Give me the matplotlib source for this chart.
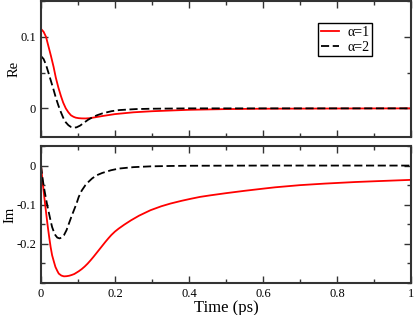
import matplotlib
matplotlib.use("Agg")
import matplotlib.pyplot as plt
from matplotlib.ticker import MultipleLocator

plt.rcParams['font.family'] = ['Liberation Serif', 'DejaVu Serif']

# Real part, alpha=1
t_re1 = [0, 0.007, 0.0135, 0.020, 0.027, 0.034, 0.040, 0.047, 0.054, 0.060, 0.067, 0.074, 0.081,
         0.088, 0.094, 0.102, 0.11, 0.12, 0.13, 0.146, 0.166, 0.2, 0.25, 0.3, 0.4, 0.5, 0.6, 0.8, 1.0]
re1 = [0.111, 0.107, 0.100, 0.087, 0.073, 0.058, 0.043, 0.029, 0.017, 0.008, 0.0, -0.0055, -0.0097,
       -0.0118, -0.013, -0.0137, -0.014, -0.0141, -0.0138, -0.0125, -0.0107, -0.008, -0.0055, -0.004,
       -0.002, -0.001, -0.0005, -0.0002, 0.0]

# Real part, alpha=2
t_re2 = [0, 0.007, 0.0135, 0.020, 0.027, 0.034, 0.040, 0.047, 0.054, 0.060, 0.067, 0.074, 0.081, 0.088,
         0.096, 0.106, 0.115, 0.127, 0.139, 0.152, 0.166, 0.19, 0.211, 0.256, 0.3, 0.4, 0.6, 0.8, 1.0]
re2 = [0.073, 0.069, 0.061, 0.050, 0.038, 0.026, 0.015, 0.004, -0.0056, -0.013, -0.0195, -0.0235, -0.026, -0.027,
       -0.0265, -0.024, -0.0205, -0.016, -0.0125, -0.0095, -0.007, -0.004, -0.0024, -0.001, -0.0005, 0.0, 0.0, 0.0, 0.0]

# Imaginary part, alpha=1
t_im1 = [0, 0.004, 0.0085, 0.013, 0.0175, 0.022, 0.026, 0.030, 0.035, 0.039, 0.044, 0.048, 0.055, 0.062,
         0.069, 0.076, 0.083, 0.090, 0.096, 0.102, 0.110, 0.118, 0.126, 0.134, 0.142, 0.150, 0.158, 0.166,
         0.174, 0.182, 0.190, 0.200, 0.210, 0.225, 0.243, 0.265, 0.296, 0.325, 0.35, 0.38, 0.404, 0.43,
         0.458, 0.5, 0.55, 0.6, 0.633, 0.7, 0.768, 0.85, 0.903, 1.0]
im1 = [0, -0.038, -0.077, -0.114, -0.150, -0.182, -0.208, -0.229, -0.246, -0.259, -0.269, -0.276, -0.281, -0.283,
       -0.2826, -0.2815, -0.2795, -0.277, -0.2735, -0.270, -0.2645, -0.258, -0.2505, -0.242, -0.233, -0.2235,
       -0.214, -0.2045, -0.195, -0.186, -0.1775, -0.1685, -0.161, -0.151, -0.140, -0.128, -0.114, -0.104,
       -0.097, -0.090, -0.085, -0.080, -0.076, -0.0705, -0.0645, -0.059, -0.0555, -0.050, -0.046, -0.042,
       -0.040, -0.0365]

# Imaginary part, alpha=2
t_im2 = [0, 0.0036, 0.008, 0.0126, 0.017, 0.0216, 0.026, 0.030, 0.035, 0.039, 0.044, 0.050, 0.056, 0.062,
         0.069, 0.0755, 0.082, 0.089, 0.096, 0.102, 0.110, 0.120, 0.129, 0.138, 0.150, 0.165, 0.189, 0.21,
         0.25, 0.296, 0.35, 0.4, 0.6, 0.8, 1.0]
im2 = [0, -0.029, -0.056, -0.080, -0.102, -0.122, -0.141, -0.157, -0.170, -0.178, -0.184, -0.186, -0.184, -0.178,
       -0.165, -0.148, -0.131, -0.114, -0.097, -0.080, -0.064, -0.050, -0.041, -0.033, -0.025, -0.019, -0.012, -0.0077,
       -0.004, -0.002, -0.001, -0.0005, 0.0, 0.0, 0.0]

labels = ['α=1', 'α=2']
xticks = [0, 0.2, 0.4, 0.6, 0.8, 1]
xticklabels = ['0', '0.2', '0.4', '0.6', '0.8', '1']

fig = plt.figure(figsize=(4.15, 3.15), dpi=100)
ax1 = fig.add_axes([41/415, 1-137/315, 370/415, 136/315])
ax2 = fig.add_axes([41/415, 1-283/315, 370/415, 137/315])

red = '#ff0000'
dash = (4.5, 2.0)
for ax in (ax1, ax2):
    for s in ax.spines.values():
        s.set_linewidth(1.5)
        s.set_color('#333333')
    ax.set_xlim(0, 1)
    ax.xaxis.set_major_locator(MultipleLocator(0.2))
    ax.xaxis.set_minor_locator(MultipleLocator(0.1))
    ax.yaxis.set_major_locator(MultipleLocator(0.1))
    ax.yaxis.set_minor_locator(MultipleLocator(0.05))
    ax.tick_params(which='both', direction='in', top=True, right=True, color='#333333', width=1.0, labelsize=9)
    ax.tick_params(which='major', length=5)
    ax.tick_params(which='minor', length=3)

ax1.plot(t_re1, re1, color=red, lw=1.3, label=labels[0])
ax1.plot(t_re2, re2, color='black', lw=1.3, dashes=dash, label=labels[1])
ax1.set_ylim(-0.04, 0.15)
ax1.set_yticks([0, 0.1])
ax1.set_yticklabels(['0', '0.1'])
ax1.tick_params(labelbottom=False)
ax1.set_ylabel('Re', fontsize=10.5)
ax1.yaxis.set_label_coords(-0.055, 0.5)
leg = ax1.legend(loc='upper right', bbox_to_anchor=(0.895, 0.835), fontsize=10, frameon=True, fancybox=False,
                 edgecolor='black', handlelength=1.3, handletextpad=0.6, borderpad=0.2, labelspacing=0.1,
                 borderaxespad=0, framealpha=1)
leg.get_frame().set_linewidth(1.0)

ax2.plot(t_im1, im1, color=red, lw=1.3)
ax2.plot(t_im2, im2, color='black', lw=1.3, dashes=dash)
ax2.set_ylim(-0.3, 0.05)
ax2.set_yticks([-0.2, -0.1, 0])
ax2.set_yticklabels(['-0.2', '-0.1', '0'])
ax2.set_xticks(xticks)
ax2.set_xticklabels(xticklabels)
ax2.set_ylabel('Im', fontsize=10.5)
ax2.yaxis.set_label_coords(-0.066, 0.5)
ax2.set_xlabel('Time (ps)', fontsize=12, labelpad=0)

fig.savefig('out.png', dpi=100)
